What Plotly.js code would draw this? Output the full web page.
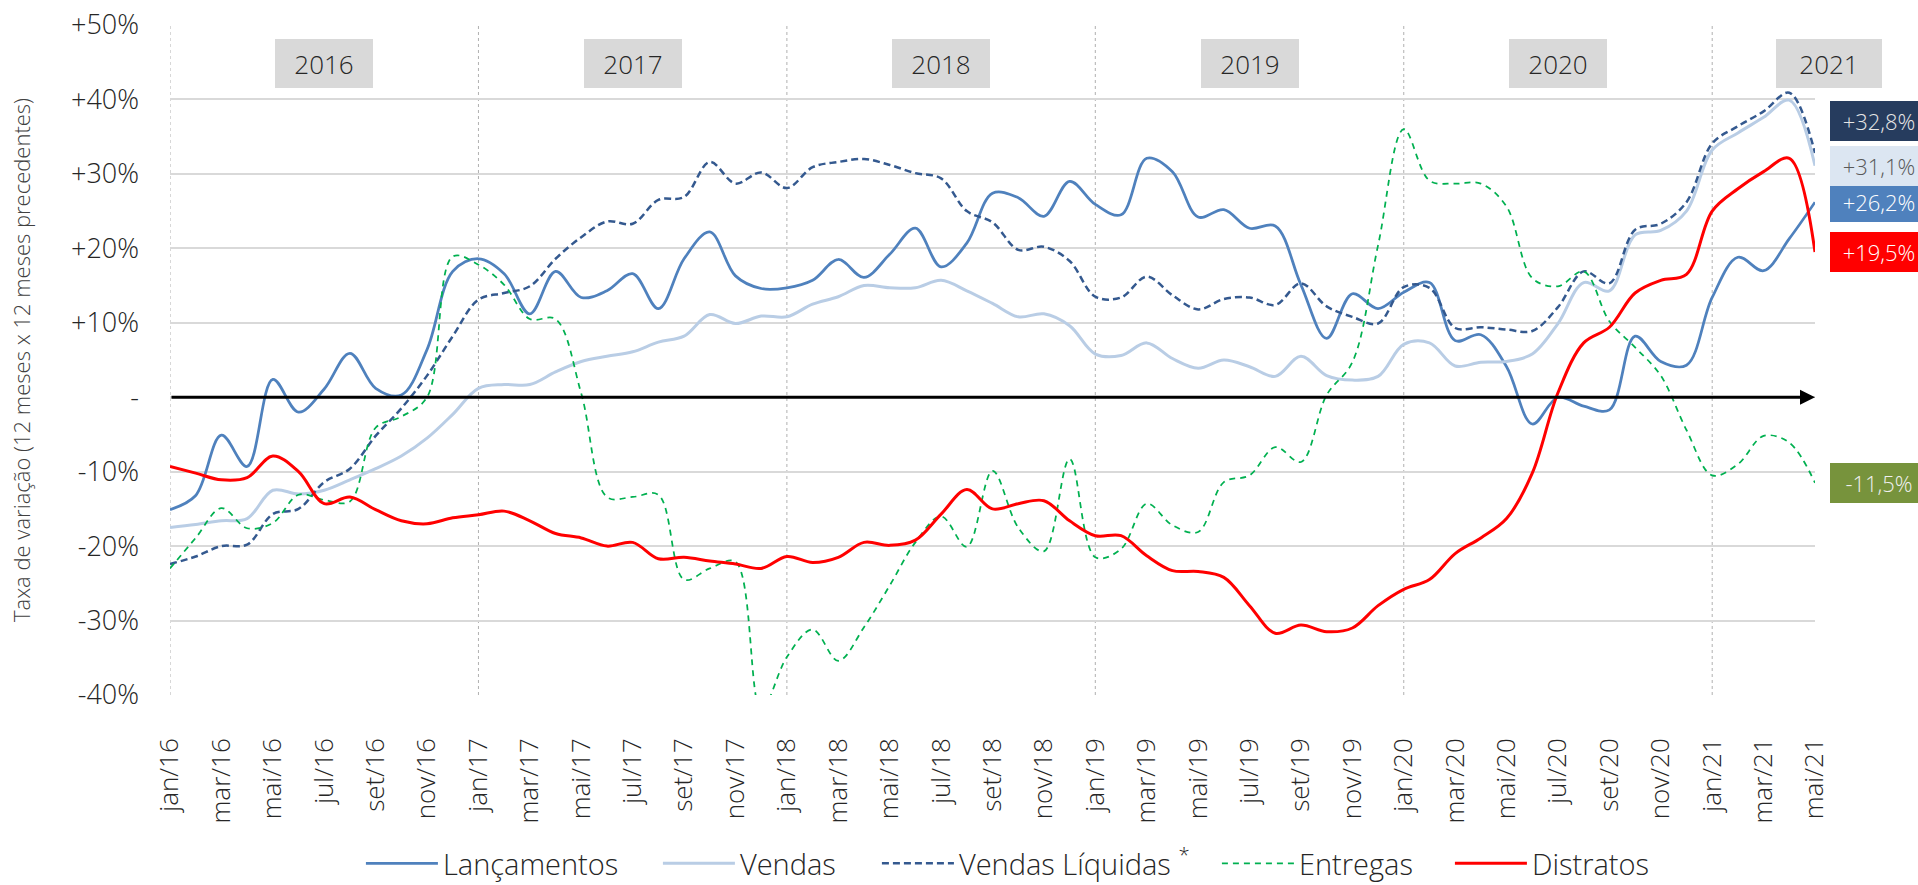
<!DOCTYPE html>
<html><head><meta charset="utf-8">
<script src="https://cdn.plot.ly/plotly-3.0.1.min.js"></script>
<style>html,body{margin:0;padding:0;background:#fff;}#chart{width:1918px;height:885px;}</style>
</head><body><div id="chart"></div>
<script>
const months = ['jan/16','fev/16','mar/16','abr/16','mai/16','jun/16','jul/16','ago/16','set/16','out/16','nov/16','dez/16',
'jan/17','fev/17','mar/17','abr/17','mai/17','jun/17','jul/17','ago/17','set/17','out/17','nov/17','dez/17',
'jan/18','fev/18','mar/18','abr/18','mai/18','jun/18','jul/18','ago/18','set/18','out/18','nov/18','dez/18',
'jan/19','fev/19','mar/19','abr/19','mai/19','jun/19','jul/19','ago/19','set/19','out/19','nov/19','dez/19',
'jan/20','fev/20','mar/20','abr/20','mai/20','jun/20','jul/20','ago/20','set/20','out/20','nov/20','dez/20',
'jan/21','fev/21','mar/21','abr/21','mai/21'];

const tickLabels = ['jan/16','mar/16','mai/16','jul/16','set/16','nov/16','jan/17','mar/17','mai/17','jul/17','set/17','nov/17',
'jan/18','mar/18','mai/18','jul/18','set/18','nov/18','jan/19','mar/19','mai/19','jul/19','set/19','nov/19',
'jan/20','mar/20','mai/20','jul/20','set/20','nov/20','jan/21','mar/21','mai/21'];

const yTickVals = [-40,-30,-20,-10,0,10,20,30,40,50];
const yTickText = ['-40%','-30%','-20%','-10%','-','+10%','+20%','+30%','+40%','+50%'];

const yearLabels = ['2016','2017','2018','2019','2020','2021'];

const lancamentos = [-15.1,-13.2,-5.1,-9.3,2.4,-2.0,1.1,5.9,1.2,0.3,6.4,16.9,
18.6,16.6,11.2,16.9,13.4,14.3,16.6,11.9,18.6,22.2,16.3,14.6,
14.7,15.7,18.5,16.1,19.2,22.7,17.5,20.7,27.4,26.8,24.3,29.0,
25.9,24.5,32.1,30.3,24.2,25.2,22.7,23.0,15.1,7.9,13.9,11.9,
14.1,15.4,7.6,8.4,4.1,-3.6,0.0,-1.2,-1.7,8.2,4.8,4.3,
13.4,18.8,17.0,21.3,26.2];

const vendas = [-17.5,-17.1,-16.6,-16.3,-12.5,-13.0,-12.5,-11.1,-9.6,-7.9,-5.5,-2.3,
1.2,1.7,1.7,3.4,4.8,5.5,6.1,7.4,8.2,11.1,9.9,10.9,
10.8,12.5,13.5,15.0,14.7,14.7,15.7,14.3,12.6,10.8,11.2,9.6,
5.8,5.6,7.3,5.2,3.9,5.0,4.1,2.8,5.5,2.9,2.3,2.8,
7.1,7.3,4.2,4.7,4.8,5.8,9.9,15.4,14.3,21.8,22.4,25.0,
33.2,35.5,37.6,39.9,31.1];

const vendasLiquidas = [-22.4,-21.4,-20.0,-19.8,-15.7,-15.0,-11.4,-9.6,-5.2,-1.5,2.9,8.2,
13.1,14.0,14.9,18.6,21.5,23.6,23.3,26.5,26.9,31.6,28.7,30.2,
28.1,30.9,31.6,32.0,31.2,30.1,29.4,25.0,23.5,19.8,20.2,18.3,
13.5,13.4,16.2,13.7,11.8,13.2,13.4,12.4,15.3,12.2,10.8,9.9,
14.8,14.7,9.3,9.4,9.1,8.9,12.1,16.9,15.3,22.5,23.3,26.2,
34.1,36.4,38.4,40.9,32.8];

const entregas = [-23.0,-18.9,-14.9,-17.6,-16.9,-13.1,-13.8,-14.0,-4.1,-2.6,0.0,18.9,
17.8,15.1,10.5,10.5,0.5,-13.4,-13.4,-13.1,-24.5,-23.0,-22.1,-42.0,
-34.9,-31.2,-35.4,-30.9,-25.3,-19.5,-16.0,-20.1,-9.9,-17.5,-20.7,-8.3,
-21.5,-20.4,-14.3,-17.2,-18.1,-11.4,-10.5,-6.7,-8.7,0.3,4.7,20.4,
36.0,29.1,28.7,28.7,25.6,16.0,14.9,16.9,10.2,6.7,2.9,-4.4,
-10.5,-9.0,-5.2,-6.1,-11.5];

const distratos = [-9.3,-10.2,-11.1,-10.8,-7.9,-10.0,-14.3,-13.4,-15.1,-16.6,-17.0,-16.2,
-15.8,-15.3,-16.6,-18.3,-18.9,-20.0,-19.5,-21.7,-21.5,-22.0,-22.4,-23.0,
-21.4,-22.2,-21.5,-19.5,-19.9,-19.2,-15.7,-12.4,-15.0,-14.3,-13.9,-16.6,
-18.6,-18.6,-21.3,-23.3,-23.4,-24.2,-28.0,-31.7,-30.6,-31.5,-31.0,-28.0,
-25.8,-24.5,-21.0,-18.9,-16.3,-10.2,0.6,7.3,9.4,14.0,15.7,16.5,
25.0,28.0,30.3,32.1,19.5];

const FONT = 'Open Sans, sans-serif';

const series = [
  {name:'Lançamentos', y:lancamentos, color:'#4f81bd', width:2.75, dash:'solid', box:'#4f81bd', txt:'#ffffff', shift:0, lw:210},
  {name:'Vendas', y:vendas, color:'#b9cde5', width:3, dash:'solid', box:'#dce6f2', txt:'#595959', shift:0, lw:132},
  {name:'Vendas Líquidas <sup>*</sup>', y:vendasLiquidas, color:'#34598f', width:2.5, dash:'7px,4px', box:'#263c5e', txt:'#e6e6e6', shift:32, lw:253},
  {name:'Entregas', y:entregas, color:'#00b050', width:1.75, dash:'6px,5px', box:'#77933c', txt:'#f0f0f0', shift:0, lw:146},
  {name:'Distratos', y:distratos, color:'#ff0000', width:3, dash:'solid', box:'#ff0000', txt:'#ffffff', shift:0, lw:125}
];

const traces = series.map(s => ({
  type:'scatter', mode:'lines', name:s.name, x:months, y:s.y, legendwidth:s.lw,
  line:{color:s.color, width:s.width, dash:s.dash, shape:'spline', smoothing:1},
  hoverinfo:'x+y+name'
}));

const shapes = months.filter(m => m.startsWith('jan/')).map(m => ({
  type:'line', xref:'x', yref:'paper', x0:m, x1:m, y0:0, y1:1,
  line:{color:'#b0b0b0', width:1, dash:'dot'}, layer:'below'
}));

const last = months.length - 1;
const annotations = [];
// zero line with arrow
annotations.push({x:last, y:0, ax:0, ay:0, xref:'x', yref:'y', axref:'x', ayref:'y',
  text:'', showarrow:true, arrowhead:2, arrowsize:1, arrowwidth:3, arrowcolor:'#000000', standoff:0});

// year boxes
yearLabels.forEach(yl => {
  const jul = 'jul/' + yl.slice(2);
  const inData = months.indexOf(jul) >= 0;
  annotations.push({
    text:yl, showarrow:false, yref:'paper', y:0.9425, yanchor:'middle',
    xref: inData ? 'x' : 'paper', x: inData ? jul : 1.0085, xanchor:'center',
    bgcolor:'#d9d9d9', width: inData ? 96 : 104, height:47, borderpad:1, borderwidth:0,
    font:{family:FONT, size:26, color:'#262626', weight:300}
  });
});

// end-value labels
series.forEach(s => {
  const v = s.y[last];
  const t = (v > 0 ? '+' : '') + v.toFixed(1).replace('.', ',') + '%';
  annotations.push({
    text:t, showarrow:false, xref:'paper', x:1.0091, xanchor:'left',
    yref:'y', y:v, yanchor:'middle', yshift:s.shift,
    bgcolor:s.box, width:96, height:38, borderpad:1, borderwidth:0, align:'center',
    font:{family:FONT, size:22, color:s.txt, weight:300}
  });
});

const layout = {
  width:1918, height:885,
  paper_bgcolor:'#ffffff', plot_bgcolor:'#ffffff',
  margin:{l:170, r:103, t:25, b:190, autoexpand:false},
  font:{family:FONT, color:'#262626'},
  showlegend:true,
  legend:{orientation:'h', x:0.5115, xanchor:'center', y:-0.2515, yanchor:'middle',
    font:{family:FONT, size:29, color:'#262626', weight:300}, itemwidth:72, traceorder:'normal'},
  xaxis:{type:'category', range:[0, last], tickmode:'array', tickvals:tickLabels, ticktext:tickLabels,
    tickangle:-90, showgrid:false, zeroline:false, showline:false, ticks:'', automargin:false,
    ticklabelstandoff:37, tickfont:{family:FONT, size:26, color:'#262626', weight:300}},
  yaxis:{range:[-40, 50], tickmode:'array', tickvals:yTickVals, ticktext:yTickText,
    showgrid:true, gridcolor:'#d9d9d9', gridwidth:1.5, zeroline:false, showline:false, ticks:'', automargin:false,
    ticklabelstandoff:30, tickfont:{family:FONT, size:27, color:'#262626', weight:300},
    title:{text:'Taxa de variação (12 meses x 12 meses precedentes)', standoff:34,
      font:{family:FONT, size:22, color:'#404040', weight:300}}},
  shapes:shapes,
  annotations:annotations
};

Plotly.newPlot('chart', traces, layout, {displayModeBar:false, responsive:false});
</script>
</body></html>
